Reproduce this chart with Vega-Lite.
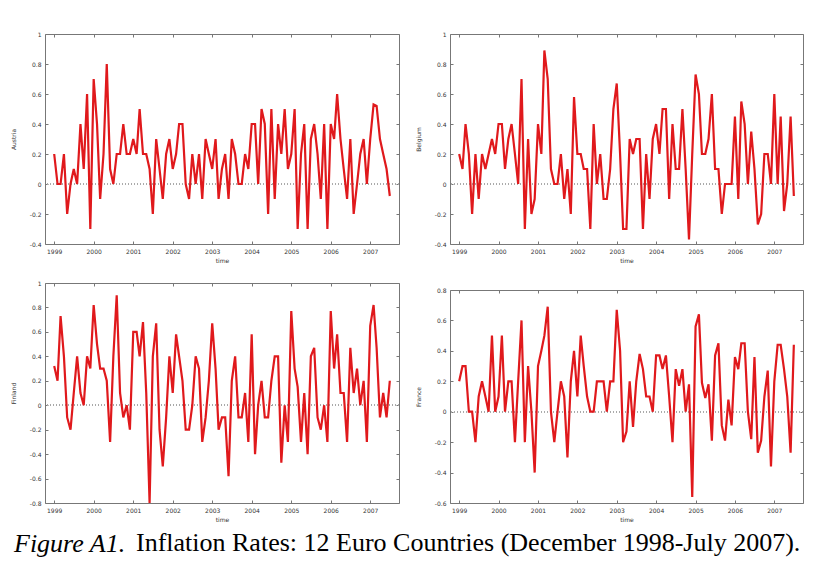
{
  "$schema": "https://vega.github.io/schema/vega-lite/v6.json",
  "padding": {"left": 9, "top": 30, "right": 0, "bottom": 0},
  "background": "white",
  "datasets": {
    "infl": [
      {"d":"1999-01","AT":0.2,"BE":0.2,"FI":0.32,"FR":0.2},
      {"d":"1999-02","AT":0.0,"BE":0.1,"FI":0.2,"FR":0.3},
      {"d":"1999-03","AT":0.0,"BE":0.4,"FI":0.73,"FR":0.3},
      {"d":"1999-04","AT":0.2,"BE":0.2,"FI":0.4,"FR":0.0},
      {"d":"1999-05","AT":-0.2,"BE":-0.2,"FI":-0.1,"FR":0.0},
      {"d":"1999-06","AT":0.0,"BE":0.2,"FI":-0.2,"FR":-0.2},
      {"d":"1999-07","AT":0.1,"BE":-0.1,"FI":0.1,"FR":0.1},
      {"d":"1999-08","AT":0.0,"BE":0.2,"FI":0.4,"FR":0.2},
      {"d":"1999-09","AT":0.4,"BE":0.1,"FI":0.1,"FR":0.1},
      {"d":"1999-10","AT":0.1,"BE":0.2,"FI":0.0,"FR":0.0},
      {"d":"1999-11","AT":0.6,"BE":0.3,"FI":0.4,"FR":0.5},
      {"d":"1999-12","AT":-0.3,"BE":0.2,"FI":0.3,"FR":0.0},
      {"d":"2000-01","AT":0.7,"BE":0.4,"FI":0.82,"FR":0.1},
      {"d":"2000-02","AT":0.4,"BE":0.4,"FI":0.5,"FR":0.5},
      {"d":"2000-03","AT":-0.1,"BE":0.1,"FI":0.3,"FR":0.0},
      {"d":"2000-04","AT":0.2,"BE":0.3,"FI":0.3,"FR":0.2},
      {"d":"2000-05","AT":0.8,"BE":0.4,"FI":0.2,"FR":0.2},
      {"d":"2000-06","AT":0.1,"BE":0.2,"FI":-0.3,"FR":-0.2},
      {"d":"2000-07","AT":0.0,"BE":0.0,"FI":0.4,"FR":0.2},
      {"d":"2000-08","AT":0.2,"BE":0.7,"FI":0.9,"FR":0.6},
      {"d":"2000-09","AT":0.2,"BE":-0.3,"FI":0.1,"FR":-0.2},
      {"d":"2000-10","AT":0.4,"BE":0.3,"FI":-0.1,"FR":0.3},
      {"d":"2000-11","AT":0.2,"BE":-0.2,"FI":0.0,"FR":0.0},
      {"d":"2000-12","AT":0.2,"BE":-0.1,"FI":-0.2,"FR":-0.4},
      {"d":"2001-01","AT":0.3,"BE":0.4,"FI":0.6,"FR":0.3},
      {"d":"2001-02","AT":0.2,"BE":0.2,"FI":0.6,"FR":0.4},
      {"d":"2001-03","AT":0.5,"BE":0.89,"FI":0.4,"FR":0.5},
      {"d":"2001-04","AT":0.2,"BE":0.7,"FI":0.68,"FR":0.69},
      {"d":"2001-05","AT":0.2,"BE":0.1,"FI":0.1,"FR":0.0},
      {"d":"2001-06","AT":0.1,"BE":0.0,"FI":-0.8,"FR":-0.2},
      {"d":"2001-07","AT":-0.2,"BE":0.0,"FI":0.4,"FR":0.0},
      {"d":"2001-08","AT":0.3,"BE":0.2,"FI":0.67,"FR":0.2},
      {"d":"2001-09","AT":0.1,"BE":-0.1,"FI":-0.2,"FR":0.1},
      {"d":"2001-10","AT":-0.1,"BE":0.1,"FI":-0.5,"FR":-0.3},
      {"d":"2001-11","AT":0.2,"BE":-0.2,"FI":-0.1,"FR":0.2},
      {"d":"2001-12","AT":0.3,"BE":0.58,"FI":0.4,"FR":0.4},
      {"d":"2002-01","AT":0.1,"BE":0.2,"FI":0.1,"FR":0.1},
      {"d":"2002-02","AT":0.2,"BE":0.2,"FI":0.58,"FR":0.5},
      {"d":"2002-03","AT":0.4,"BE":0.1,"FI":0.4,"FR":0.3},
      {"d":"2002-04","AT":0.4,"BE":0.1,"FI":0.2,"FR":0.1},
      {"d":"2002-05","AT":0.0,"BE":-0.3,"FI":-0.2,"FR":0.0},
      {"d":"2002-06","AT":-0.1,"BE":0.4,"FI":-0.2,"FR":0.0},
      {"d":"2002-07","AT":0.2,"BE":0.0,"FI":0.0,"FR":0.2},
      {"d":"2002-08","AT":0.0,"BE":0.2,"FI":0.4,"FR":0.2},
      {"d":"2002-09","AT":0.2,"BE":-0.1,"FI":0.3,"FR":0.2},
      {"d":"2002-10","AT":-0.1,"BE":-0.1,"FI":-0.3,"FR":0.0},
      {"d":"2002-11","AT":0.3,"BE":0.1,"FI":-0.1,"FR":0.2},
      {"d":"2002-12","AT":0.2,"BE":0.5,"FI":0.2,"FR":0.2},
      {"d":"2003-01","AT":0.1,"BE":0.67,"FI":0.67,"FR":0.67},
      {"d":"2003-02","AT":0.3,"BE":0.2,"FI":0.3,"FR":0.4},
      {"d":"2003-03","AT":-0.1,"BE":-0.3,"FI":-0.2,"FR":-0.2},
      {"d":"2003-04","AT":0.1,"BE":-0.3,"FI":-0.1,"FR":-0.13},
      {"d":"2003-05","AT":0.2,"BE":0.3,"FI":-0.1,"FR":0.2},
      {"d":"2003-06","AT":-0.1,"BE":0.2,"FI":-0.58,"FR":-0.1},
      {"d":"2003-07","AT":0.3,"BE":0.3,"FI":0.2,"FR":0.2},
      {"d":"2003-08","AT":0.2,"BE":0.3,"FI":0.4,"FR":0.38},
      {"d":"2003-09","AT":0.0,"BE":-0.3,"FI":-0.1,"FR":0.28},
      {"d":"2003-10","AT":0.0,"BE":0.2,"FI":-0.1,"FR":0.1},
      {"d":"2003-11","AT":0.2,"BE":-0.1,"FI":0.1,"FR":0.1},
      {"d":"2003-12","AT":0.1,"BE":0.3,"FI":-0.3,"FR":0.0},
      {"d":"2004-01","AT":0.4,"BE":0.4,"FI":0.58,"FR":0.37},
      {"d":"2004-02","AT":0.4,"BE":0.2,"FI":-0.4,"FR":0.37},
      {"d":"2004-03","AT":0.0,"BE":0.5,"FI":0.0,"FR":0.28},
      {"d":"2004-04","AT":0.5,"BE":0.5,"FI":0.2,"FR":0.37},
      {"d":"2004-05","AT":0.4,"BE":-0.1,"FI":-0.1,"FR":0.1},
      {"d":"2004-06","AT":-0.2,"BE":0.4,"FI":-0.1,"FR":-0.2},
      {"d":"2004-07","AT":0.5,"BE":0.1,"FI":0.2,"FR":0.28},
      {"d":"2004-08","AT":-0.1,"BE":0.1,"FI":0.4,"FR":0.17},
      {"d":"2004-09","AT":0.4,"BE":0.5,"FI":0.4,"FR":0.28},
      {"d":"2004-10","AT":0.2,"BE":0.1,"FI":-0.47,"FR":0.0},
      {"d":"2004-11","AT":0.5,"BE":-0.37,"FI":0.0,"FR":0.18},
      {"d":"2004-12","AT":0.1,"BE":0.2,"FI":-0.3,"FR":-0.56},
      {"d":"2005-01","AT":0.2,"BE":0.73,"FI":0.77,"FR":0.56},
      {"d":"2005-02","AT":0.5,"BE":0.6,"FI":0.3,"FR":0.64},
      {"d":"2005-03","AT":-0.3,"BE":0.2,"FI":0.15,"FR":0.19},
      {"d":"2005-04","AT":0.2,"BE":0.2,"FI":-0.3,"FR":0.09},
      {"d":"2005-05","AT":0.4,"BE":0.3,"FI":0.1,"FR":0.18},
      {"d":"2005-06","AT":-0.3,"BE":0.6,"FI":-0.4,"FR":-0.19},
      {"d":"2005-07","AT":0.3,"BE":0.1,"FI":0.4,"FR":0.37},
      {"d":"2005-08","AT":0.4,"BE":0.1,"FI":0.47,"FR":0.45},
      {"d":"2005-09","AT":0.2,"BE":-0.2,"FI":-0.1,"FR":-0.09},
      {"d":"2005-10","AT":-0.1,"BE":0.0,"FI":-0.2,"FR":-0.19},
      {"d":"2005-11","AT":0.4,"BE":0.0,"FI":0.0,"FR":0.08},
      {"d":"2005-12","AT":-0.3,"BE":0.0,"FI":-0.3,"FR":-0.09},
      {"d":"2006-01","AT":0.4,"BE":0.45,"FI":0.77,"FR":0.36},
      {"d":"2006-02","AT":0.3,"BE":-0.1,"FI":0.3,"FR":0.28},
      {"d":"2006-03","AT":0.6,"BE":0.55,"FI":0.58,"FR":0.45},
      {"d":"2006-04","AT":0.3,"BE":0.4,"FI":0.1,"FR":0.45},
      {"d":"2006-05","AT":0.1,"BE":0.0,"FI":0.1,"FR":0.0},
      {"d":"2006-06","AT":-0.1,"BE":0.35,"FI":-0.3,"FR":-0.18},
      {"d":"2006-07","AT":0.3,"BE":0.1,"FI":0.47,"FR":0.36},
      {"d":"2006-08","AT":-0.2,"BE":-0.27,"FI":0.1,"FR":-0.27},
      {"d":"2006-09","AT":0.0,"BE":-0.2,"FI":0.3,"FR":-0.19},
      {"d":"2006-10","AT":0.2,"BE":0.2,"FI":0.0,"FR":0.1},
      {"d":"2006-11","AT":0.3,"BE":0.2,"FI":0.2,"FR":0.27},
      {"d":"2006-12","AT":0.0,"BE":0.0,"FI":-0.3,"FR":-0.36},
      {"d":"2007-01","AT":0.3,"BE":0.6,"FI":0.65,"FR":0.2},
      {"d":"2007-02","AT":0.53,"BE":0.0,"FI":0.82,"FR":0.44},
      {"d":"2007-03","AT":0.52,"BE":0.45,"FI":0.47,"FR":0.44},
      {"d":"2007-04","AT":0.3,"BE":-0.18,"FI":-0.1,"FR":0.28},
      {"d":"2007-05","AT":0.2,"BE":0.0,"FI":0.1,"FR":0.1},
      {"d":"2007-06","AT":0.1,"BE":0.45,"FI":-0.1,"FR":-0.27},
      {"d":"2007-07","AT":-0.08,"BE":-0.08,"FI":0.2,"FR":0.44}
    ]
  },
  "title": {
    "text": "Figure A1.",
    "orient": "bottom",
    "anchor": "start",
    "frame": "group",
    "font": "Liberation Serif",
    "fontSize": 26,
    "fontStyle": "italic",
    "fontWeight": "normal",
    "color": "#000000",
    "offset": 0,
    "dx": -31,
    "dy": -25
  },
  "vconcat": [
    {
      "title": {
        "text": "Inflation Rates: 12 Euro Countries (December 1998-July 2007).",
        "orient": "bottom",
        "anchor": "start",
        "frame": "group",
        "font": "Liberation Serif",
        "fontSize": 26,
        "fontStyle": "normal",
        "fontWeight": "normal",
        "color": "#000000",
        "offset": 7,
        "dx": 91
      },
      "spacing": 14,
      "hconcat": [
        {
          "spacing": 15,
          "vconcat": [
            {
              "width": 354,
              "height": 210,
              "data": {"name": "infl"},
              "layer": [
                {"mark": {"type": "rule", "color": "#aaaaaa", "strokeDash": [1, 2], "strokeWidth": 1},
                 "encoding": {"y": {"datum": 0, "type": "quantitative", "scale": {"domain": [-0.4, 1], "nice": false, "zero": false}, "axis": null}}},
                {"mark": {"type": "line", "color": "#e0191c", "strokeWidth": 2.2},
                 "encoding": {
                   "x": {"field": "d", "type": "temporal", "scale": {"domain": ["1998-10-08", "2007-09-24"]},
                         "axis": {"title": "time", "format": "%Y", "tickCount": {"interval": "year", "step": 1}}},
                   "y": {"field": "AT", "type": "quantitative", "scale": {"domain": [-0.4, 1], "nice": false, "zero": false},
                         "axis": {"title": "Austria", "values": [-0.4, -0.2, 0, 0.2, 0.4, 0.6, 0.8, 1]}}}},
                {"mark": {"type": "line", "opacity": 0},
                 "encoding": {
                   "x": {"field": "d", "type": "temporal", "scale": {"domain": ["1998-10-08", "2007-09-24"]},
                         "axis": {"orient": "top", "labels": false, "title": null, "tickCount": {"interval": "year", "step": 1}}},
                   "y": {"field": "AT", "type": "quantitative", "scale": {"domain": [-0.4, 1], "nice": false, "zero": false},
                         "axis": {"orient": "right", "labels": false, "title": null, "values": [-0.4, -0.2, 0, 0.2, 0.4, 0.6, 0.8, 1]}}}}
              ],
              "resolve": {"axis": {"x": "independent", "y": "independent"}}
            },
            {
              "width": 354,
              "height": 220,
              "data": {"name": "infl"},
              "layer": [
                {"mark": {"type": "rule", "color": "#aaaaaa", "strokeDash": [1, 2], "strokeWidth": 1},
                 "encoding": {"y": {"datum": 0, "type": "quantitative", "scale": {"domain": [-0.8, 1], "nice": false, "zero": false}, "axis": null}}},
                {"mark": {"type": "line", "color": "#e0191c", "strokeWidth": 2.2},
                 "encoding": {
                   "x": {"field": "d", "type": "temporal", "scale": {"domain": ["1998-10-08", "2007-09-24"]},
                         "axis": {"title": "time", "format": "%Y", "tickCount": {"interval": "year", "step": 1}}},
                   "y": {"field": "FI", "type": "quantitative", "scale": {"domain": [-0.8, 1], "nice": false, "zero": false},
                         "axis": {"title": "Finland", "values": [-0.8, -0.6, -0.4, -0.2, 0, 0.2, 0.4, 0.6, 0.8, 1]}}}},
                {"mark": {"type": "line", "opacity": 0},
                 "encoding": {
                   "x": {"field": "d", "type": "temporal", "scale": {"domain": ["1998-10-08", "2007-09-24"]},
                         "axis": {"orient": "top", "labels": false, "title": null, "tickCount": {"interval": "year", "step": 1}}},
                   "y": {"field": "FI", "type": "quantitative", "scale": {"domain": [-0.8, 1], "nice": false, "zero": false},
                         "axis": {"orient": "right", "labels": false, "title": null, "values": [-0.8, -0.6, -0.4, -0.2, 0, 0.2, 0.4, 0.6, 0.8, 1]}}}}
              ],
              "resolve": {"axis": {"x": "independent", "y": "independent"}}
            }
          ]
        },
        {
          "spacing": 22,
          "vconcat": [
            {
              "width": 353,
              "height": 210,
              "data": {"name": "infl"},
              "layer": [
                {"mark": {"type": "rule", "color": "#aaaaaa", "strokeDash": [1, 2], "strokeWidth": 1},
                 "encoding": {"y": {"datum": 0, "type": "quantitative", "scale": {"domain": [-0.4, 1], "nice": false, "zero": false}, "axis": null}}},
                {"mark": {"type": "line", "color": "#e0191c", "strokeWidth": 2.2},
                 "encoding": {
                   "x": {"field": "d", "type": "temporal", "scale": {"domain": ["1998-10-08", "2007-09-24"]},
                         "axis": {"title": "time", "format": "%Y", "tickCount": {"interval": "year", "step": 1}}},
                   "y": {"field": "BE", "type": "quantitative", "scale": {"domain": [-0.4, 1], "nice": false, "zero": false},
                         "axis": {"title": "Belgium", "values": [-0.4, -0.2, 0, 0.2, 0.4, 0.6, 0.8, 1]}}}},
                {"mark": {"type": "line", "opacity": 0},
                 "encoding": {
                   "x": {"field": "d", "type": "temporal", "scale": {"domain": ["1998-10-08", "2007-09-24"]},
                         "axis": {"orient": "top", "labels": false, "title": null, "tickCount": {"interval": "year", "step": 1}}},
                   "y": {"field": "BE", "type": "quantitative", "scale": {"domain": [-0.4, 1], "nice": false, "zero": false},
                         "axis": {"orient": "right", "labels": false, "title": null, "values": [-0.4, -0.2, 0, 0.2, 0.4, 0.6, 0.8, 1]}}}}
              ],
              "resolve": {"axis": {"x": "independent", "y": "independent"}}
            },
            {
              "width": 353,
              "height": 213,
              "data": {"name": "infl"},
              "layer": [
                {"mark": {"type": "rule", "color": "#aaaaaa", "strokeDash": [1, 2], "strokeWidth": 1},
                 "encoding": {"y": {"datum": 0, "type": "quantitative", "scale": {"domain": [-0.6, 0.8], "nice": false, "zero": false}, "axis": null}}},
                {"mark": {"type": "line", "color": "#e0191c", "strokeWidth": 2.2},
                 "encoding": {
                   "x": {"field": "d", "type": "temporal", "scale": {"domain": ["1998-10-08", "2007-09-24"]},
                         "axis": {"title": "time", "format": "%Y", "tickCount": {"interval": "year", "step": 1}}},
                   "y": {"field": "FR", "type": "quantitative", "scale": {"domain": [-0.6, 0.8], "nice": false, "zero": false},
                         "axis": {"title": "France", "values": [-0.6, -0.4, -0.2, 0, 0.2, 0.4, 0.6, 0.8]}}}},
                {"mark": {"type": "line", "opacity": 0},
                 "encoding": {
                   "x": {"field": "d", "type": "temporal", "scale": {"domain": ["1998-10-08", "2007-09-24"]},
                         "axis": {"orient": "top", "labels": false, "title": null, "tickCount": {"interval": "year", "step": 1}}},
                   "y": {"field": "FR", "type": "quantitative", "scale": {"domain": [-0.6, 0.8], "nice": false, "zero": false},
                         "axis": {"orient": "right", "labels": false, "title": null, "values": [-0.6, -0.4, -0.2, 0, 0.2, 0.4, 0.6, 0.8]}}}}
              ],
              "resolve": {"axis": {"x": "independent", "y": "independent"}}
            }
          ]
        }
      ]
    }
  ],
  "config": {
    "view": {"stroke": "#777777", "strokeWidth": 1},
    "axis": {
      "domain": false,
      "grid": false,
      "tickColor": "#777777",
      "tickSize": -3,
      "labelFont": "DejaVu Sans",
      "labelFontSize": 6,
      "labelColor": "#333333",
      "labelPadding": 7,
      "titleFont": "DejaVu Sans",
      "titleFontSize": 6,
      "titleFontWeight": "normal",
      "titleColor": "#333333"
    },
    "axisX": {"titlePadding": 3, "labelFlush": false},
    "axisY": {"titlePadding": 13, "labelExpr": "'' + round(datum.value * 10) / 10"}
  }
}
